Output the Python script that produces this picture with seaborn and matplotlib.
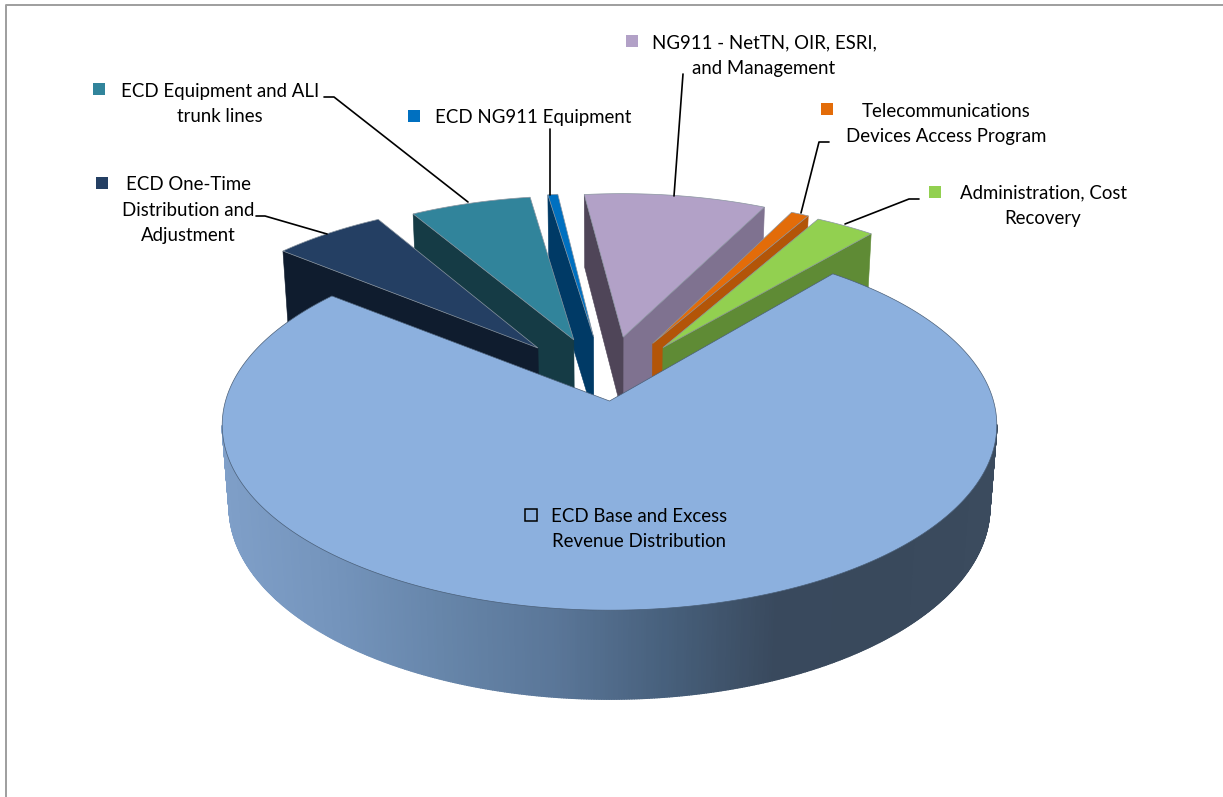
import matplotlib

matplotlib.use("Agg")
import matplotlib.pyplot as plt
import numpy as np
import seaborn as sns
from matplotlib.collections import PolyCollection
from matplotlib.patches import Polygon, Rectangle

CATEGORIES = [
    "ECD Base and Excess\nRevenue Distribution",
    "Administration, Cost\nRecovery",
    "Telecommunications\nDevices Access Program",
    "NG911 - NetTN, OIR, ESRI,\nand Management",
    "ECD NG911 Equipment",
    "ECD Equipment and ALI\ntrunk lines",
    "ECD One-Time\nDistribution and\nAdjustment",
]
VALUES = [74.6, 3.0, 0.9, 9.2, 0.5, 6.1, 5.6]
EXPLODE = [0.0, 0.355, 0.355, 0.355, 0.355, 0.355, 0.38]
RIM = [1.0, 0.97, 0.97, 0.97, 0.97, 0.97, 0.98]

TOP_COLORS = ["#8CB0DE", "#92D050", "#E36C09", "#B2A1C7", "#0070C0", "#31849B", "#243F63"]
WALL_END = ["#5F7A9A", "#5F8B35", "#D9660A", "#4F4558", "#003A66", "#153B45", "#0F1C2E"]
WALL_START = ["#5F7A9A", "#5F8B35", "#B35508", "#7F7290", "#003A66", "#153B45", "#0F1C2E"]
MAIN_WALL = ["#7F9FC8", "#7494BC", "#6685A9", "#5A7698", "#47607C", "#39495D", "#39495C", "#3B4B5E"]

# layout: text centre, swatch left/top, leader line
TEXT_POS = [(639, 529), (1043, 206), (946, 124), (764, 56), (533, 117), (220, 104), (188, 210)]
SWATCH_POS = [(525, 509), (929, 186), (821, 103), (626, 35), (408, 110), (93, 83), (96, 177)]
LEADERS = [
    None,
    [(919, 199), (909, 199), (845, 224)],
    [(829, 142), (819, 142), (801, 213)],
    [(683, 74), (674, 196)],
    [(550, 129), (550, 195)],
    [(324, 97), (334, 97), (468, 202)],
    [(256, 216), (265, 216), (327, 234)],
]
DRAW_ORDER = [3, 2, 1, 4, 5, 6, 0]

START_ANGLE = 141.4
EXPLODE_ROT = -0.66
CX, CY = 609.5, 401.0
SCALE_X, SCALE_Y = 384.0, 182.0
PERSP = 0.13
DEPTH, DEPTH_PERSP = 82.8, 0.018
EXPLODE_SHIFT = -0.008


def project(x, y, low=False):
    w = 1 + PERSP * np.asarray(y) + (DEPTH_PERSP if low else 0)
    sx = CX + SCALE_X * np.asarray(x) / w
    sy = CY - SCALE_Y * np.asarray(y) / w + (DEPTH / w if low else 0)
    return sx, sy


def slice_outline(a0, a1, explode, radius):
    mid = np.radians((a0 + a1) / 2)
    if explode > 0:
        tip = (explode * 0.75 * np.cos(mid) + EXPLODE_SHIFT, explode * 1.05 * np.sin(mid))
    else:
        tip = (0.0, 0.0)
    theta = np.radians(np.linspace(a0, a1, max(int(a1 - a0) * 3, 8)))
    return tip, tip[0] + radius * np.cos(theta), tip[1] + radius * np.sin(theta)


def quad(x0, y0, x1, y1):
    ax, ay = project(x0, y0)
    bx, by = project(x1, y1)
    cx, cy = project(x1, y1, low=True)
    dx, dy = project(x0, y0, low=True)
    return [(ax, ay), (bx, by), (cx, cy), (dx, dy)]


def draw_slice(ax, idx, a0, a1, z):
    tip, xs, ys = slice_outline(a0, a1, EXPLODE[idx], RIM[idx])

    # radial walls, only the ones facing the viewer
    for (x0, y0, x1, y1, col) in [
        (tip[0], tip[1], xs[0], ys[0], WALL_START[idx]),
        (xs[-1], ys[-1], tip[0], tip[1], WALL_END[idx]),
    ]:
        q = quad(x0, y0, x1, y1)
        if q[1][0] > q[0][0]:
            ax.add_patch(Polygon(q, closed=True, fc=col, ec=col, lw=0.4, zorder=z))

    # outer wall, shaded left to right on the big slice
    polys, cols = [], []
    grad = sns.blend_palette(MAIN_WALL, 256)
    for i in range(len(xs) - 1):
        q = quad(xs[i], ys[i], xs[i + 1], ys[i + 1])
        if q[1][0] <= q[0][0]:
            continue
        polys.append(q)
        if idx == 0:
            pos = np.clip((q[0][0] - 222) / (997 - 222), 0, 1)
            cols.append(grad[int(pos * 255)])
        else:
            cols.append(WALL_START[idx])
    if polys:
        ax.add_collection(PolyCollection(polys, facecolors=cols, edgecolors=cols, linewidths=1.0, zorder=z))

    # top face
    tx, ty = project(tip[0], tip[1])
    px, py = project(xs, ys)
    top = np.column_stack([np.r_[tx, px], np.r_[ty, py]])
    edge = "#4A5F78" if idx == 0 else "#8A95A0"
    ax.add_patch(Polygon(top, closed=True, fc=TOP_COLORS[idx], ec=edge, lw=0.5, zorder=z + 0.5))


def main():
    sns.set_theme(style="white")
    plt.rcParams["font.family"] = ["Lato", "DejaVu Sans"]

    fig = plt.figure(figsize=(12.23, 7.97), dpi=100)
    ax = fig.add_axes([0, 0, 1, 1])
    ax.set_xlim(0, 1223)
    ax.set_ylim(797, 0)
    ax.axis("off")

    # chart frame, cropped at the right and the bottom
    ax.plot([5.5, 5.5, 1223], [797, 5.3, 5.3], color="#9E9E9E", lw=1.4, zorder=1)

    sweep = np.array(VALUES) / sum(VALUES) * 360.0
    starts = START_ANGLE + np.r_[0, np.cumsum(sweep)[:-1]]
    starts[1:] += EXPLODE_ROT
    for z, idx in enumerate(DRAW_ORDER):
        draw_slice(ax, idx, starts[idx], starts[idx] + sweep[idx], 2 + z)

    for idx, label in enumerate(CATEGORIES):
        ax.text(*TEXT_POS[idx], label, ha="center", va="center", fontsize=13.4,
                color="black", linespacing=1.62, zorder=20)
        sx, sy = SWATCH_POS[idx]
        if idx == 0:
            ax.add_patch(Rectangle((sx, sy), 12, 12, fc=TOP_COLORS[idx], ec="black", lw=1.1, zorder=20))
        else:
            ax.add_patch(Rectangle((sx, sy), 12, 12, fc=TOP_COLORS[idx], lw=0, zorder=20))
        if LEADERS[idx]:
            lx, ly = zip(*LEADERS[idx])
            ax.plot(lx, ly, color="black", lw=1.2, zorder=19)

    fig.savefig("out.png", dpi=100)
    plt.close(fig)


if __name__ == "__main__":
    main()
